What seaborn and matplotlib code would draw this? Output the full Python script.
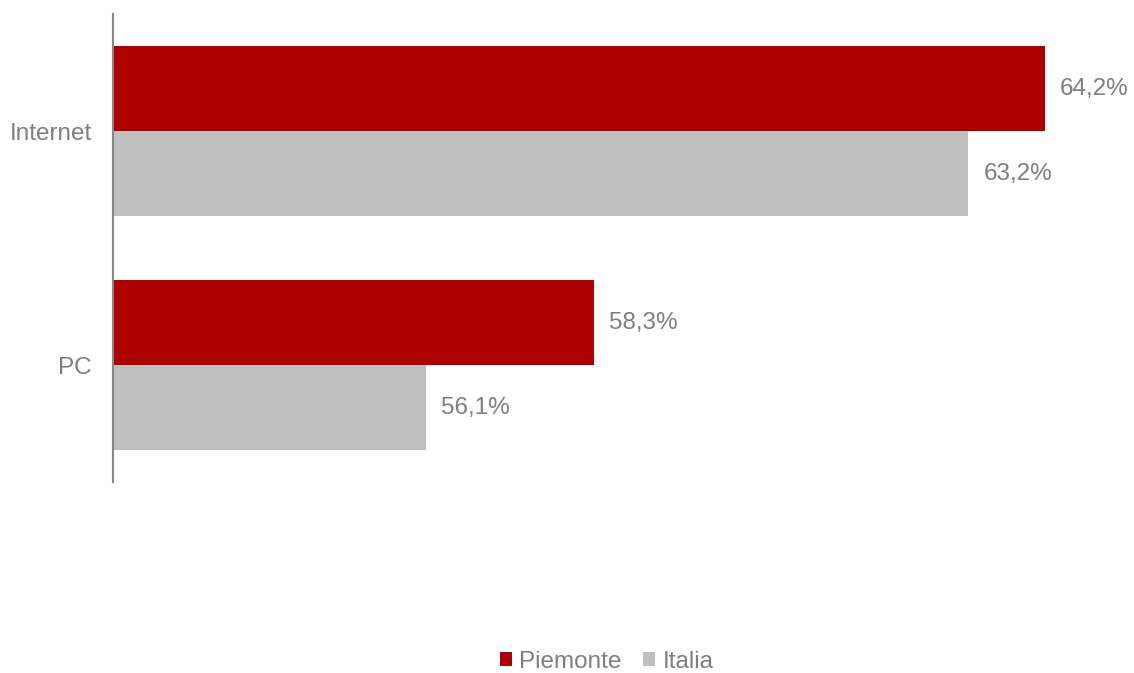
import matplotlib
matplotlib.use("Agg")
import matplotlib.pyplot as plt
import seaborn as sns
import pandas as pd

# Data
categories = ["Internet", "PC"]
series = ["Piemonte", "Italia"]
piemonte = [64.2, 58.3]
italia = [63.2, 56.1]
colors = ["#AE0000", "#BFBFBF"]
text_color = "#7F7F7F"

df = pd.DataFrame({
    "categoria": categories * 2,
    "serie": [series[0]] * len(categories) + [series[1]] * len(categories),
    "valore": piemonte + italia,
})

sns.set_style("white")
plt.rcParams["font.family"] = ["Liberation Sans", "DejaVu Sans"]

fig = plt.figure(figsize=(11.34, 6.73), dpi=100)
ax = fig.add_axes([0.0996, 0.2838, 0.8754, 0.6952])

sns.barplot(data=df, y="categoria", x="valore", hue="serie",
            order=categories, hue_order=series, palette=colors,
            orient="h", width=0.727, saturation=1, linewidth=0,
            ax=ax, legend=True)

ax.set_xlim(52, 65)
ax.set_ylim(1.5, -0.5)

# value labels
for container in ax.containers:
    labels = [f"{v:.1f}%".replace(".", ",") for v in container.datavalues]
    ax.bar_label(container, labels=labels, padding=11, fontsize=17.5, color=text_color)

ax.set_xlabel("")
ax.set_ylabel("")
ax.set_xticks([])
ax.tick_params(axis="y", length=0, pad=15, labelsize=17.5, labelcolor=text_color)

for side in ["top", "right", "bottom"]:
    ax.spines[side].set_visible(False)
ax.spines["left"].set_color("#868686")
ax.spines["left"].set_linewidth(1.5)

ax.legend_.remove()
handles, labels = ax.get_legend_handles_labels()
fig.legend(handles, labels, loc="center", bbox_to_anchor=(0.535, 0.017),
           ncol=2, frameon=False, fontsize=17.5, labelcolor=text_color,
           handlelength=0.5, handleheight=0.5, handletextpad=0.3,
           columnspacing=0.9)

fig.savefig("out.png", dpi=100)
